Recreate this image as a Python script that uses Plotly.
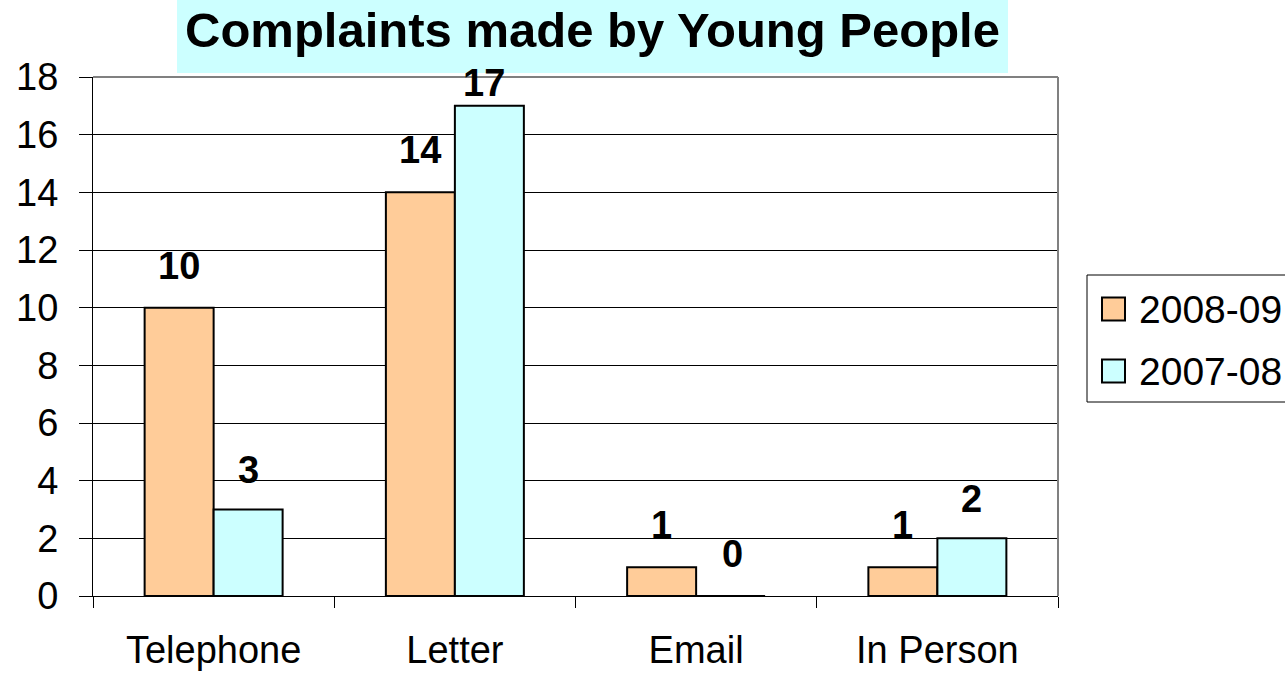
import plotly.graph_objects as go

# Complaint channels and yearly counts
categories = ["Telephone", "Letter", "Email", "In Person"]
series_names = ["2008-09", "2007-08"]
counts_2008_09 = [10, 14, 1, 1]
counts_2007_08 = [3, 17, 0, 2]
y_ticks = [0, 2, 4, 6, 8, 10, 12, 14, 16, 18]

# Value-label nudges (px): horizontal shift and height of label centre above bar top
label_dx = [[0, 0, 0, 0], [0, -5, 2, 0]]
label_dy = [[42, 42, 42, 42], [40, 23, 42, 39]]

W, H = 1285, 674
L, R, T, B = 93, 1058, 77, 596          # plot-area edges in pixels
PW, PH = R - L, B - T

FILL = ["#FFCC99", "#CCFFFF"]
FONT = "Liberation Sans, Arial, sans-serif"
BARGAP = 0.428


def px_x(x):
    return (x - L) / PW


def px_y(y):
    return (B - y) / PH


fig = go.Figure()
for name, vals, col in zip(series_names, [counts_2008_09, counts_2007_08], FILL):
    fig.add_trace(go.Bar(
        x=categories, y=vals, name=name, showlegend=False,
        marker=dict(color=col, line=dict(color="#000000", width=2)),
    ))

# value labels above each bar
bar_w = PW / len(categories) * (1 - BARGAP) / 2
annotations = []
for s, vals in enumerate([counts_2008_09, counts_2007_08]):
    off = -bar_w / 2 if s == 0 else bar_w / 2
    for i, (cat, v) in enumerate(zip(categories, vals)):
        annotations.append(dict(
            x=cat, y=v, xref="x", yref="y", text=str(v), showarrow=False,
            xanchor="center", yanchor="middle",
            xshift=off + label_dx[s][i], yshift=label_dy[s][i],
            font=dict(family=FONT, size=38, color="#000000", weight="bold"),
        ))

# legend drawn by hand so the swatches can be large
shapes = [
    # title background
    dict(type="rect", xref="paper", yref="paper", layer="below",
         x0=px_x(177), x1=px_x(1008), y0=px_y(73), y1=px_y(0),
         fillcolor="#CCFFFF", line=dict(width=0)),
    # plot-area border (top and right)
    dict(type="line", xref="paper", yref="paper", x0=0, x1=1, y0=1, y1=1,
         line=dict(color="#808080", width=2)),
    dict(type="line", xref="paper", yref="paper", x0=1, x1=1, y0=0, y1=1,
         line=dict(color="#808080", width=2)),
    # legend box
    dict(type="rect", xref="paper", yref="paper",
         x0=px_x(1087), x1=px_x(1300), y0=px_y(402), y1=px_y(275),
         fillcolor="#FFFFFF", line=dict(color="#000000", width=1)),
]
legend_y = [309, 371]
for name, col, cy in zip(series_names, FILL, legend_y):
    shapes.append(dict(type="rect", xref="paper", yref="paper",
                       x0=px_x(1102), x1=px_x(1125),
                       y0=px_y(cy + 11.5), y1=px_y(cy - 11.5),
                       fillcolor=col, line=dict(color="#000000", width=2)))
    annotations.append(dict(
        x=px_x(1137), y=px_y(cy), xref="paper", yref="paper", text=name,
        showarrow=False, xanchor="left", yanchor="middle",
        font=dict(family=FONT, size=39, color="#000000"),
    ))

fig.update_layout(
    width=W, height=H,
    margin=dict(l=L, r=W - R, t=T, b=H - B, pad=0, autoexpand=False),
    paper_bgcolor="#FFFFFF", plot_bgcolor="#FFFFFF",
    barmode="group", bargap=BARGAP, bargroupgap=0,
    title=dict(text="Complaints made by Young People", xref="container", yref="container",
               x=592.5 / W, y=1 - 30 / H, xanchor="center", yanchor="middle",
               font=dict(family=FONT, size=49, color="#000000", weight="bold")),
    xaxis=dict(
        type="category", showline=True, linecolor="#000000", linewidth=1,
        ticks="outside", tickson="boundaries", ticklen=11, tickcolor="#000000",
        ticklabelstandoff=20, automargin=False,
        tickfont=dict(family=FONT, size=38, color="#000000"),
        showgrid=False, zeroline=False,
    ),
    yaxis=dict(
        range=[0, 18], tickvals=y_ticks, showline=True, linecolor="#000000",
        linewidth=1, ticks="outside", ticklen=13, tickcolor="#000000",
        ticklabelstandoff=13, automargin=False,
        tickfont=dict(family=FONT, size=38, color="#000000"),
        showgrid=True, gridcolor="#000000", gridwidth=1, zeroline=False,
    ),
    shapes=shapes,
    annotations=annotations,
)

fig.write_html("out.html")
